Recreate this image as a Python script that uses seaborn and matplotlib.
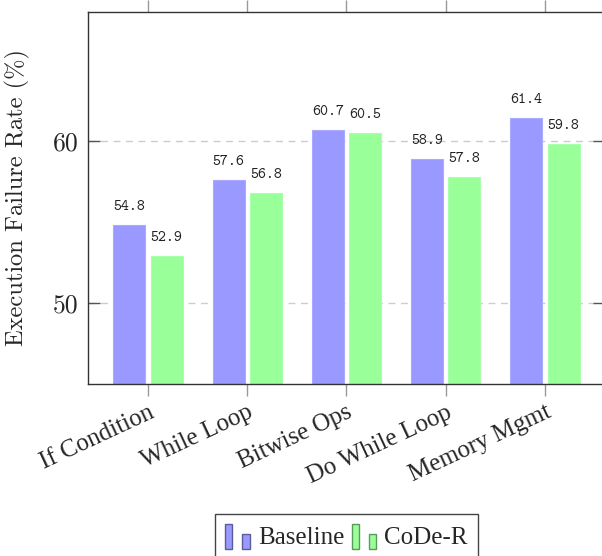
import matplotlib
matplotlib.use("Agg")
import matplotlib.pyplot as plt
from matplotlib.patches import Rectangle, Patch
from matplotlib.legend_handler import HandlerBase
import pandas as pd
import seaborn as sns

# Chart data
categories = ["If Condition", "While Loop", "Bitwise Ops", "Do While Loop", "Memory Mgmt"]
baseline = [54.8, 57.6, 60.7, 58.9, 61.4]
coder = [52.9, 56.8, 60.5, 57.8, 59.8]
series_names = ["Baseline", "CoDe-R"]
y_ticks = [50, 60]

colors = {"Baseline": "#9999ff", "CoDe-R": "#99ff99"}
edges = {"Baseline": "#aaaaff", "CoDe-R": "#aaffaa"}
legend_edges = {"Baseline": "#5c5c99", "CoDe-R": "#5c995c"}


class TwoBarHandler(HandlerBase):
    """pgfplots-style bar legend: a tall and a short bar."""

    def create_artists(self, legend, orig_handle, xdescent, ydescent,
                       width, height, fontsize, trans):
        fc = orig_handle.get_facecolor()
        ec = orig_handle.get_edgecolor()
        x0, y0 = -xdescent, -ydescent - 0.1 * height
        r1 = Rectangle((x0, y0), 0.28 * width, 1.1 * height,
                       facecolor=fc, edgecolor=ec, lw=1.0, transform=trans)
        r2 = Rectangle((x0 + 0.68 * width, y0), 0.3 * width, 0.65 * height,
                       facecolor=fc, edgecolor=ec, lw=1.0, transform=trans)
        return [r1, r2]


df = pd.DataFrame({
    "category": categories * 2,
    "series": [series_names[0]] * len(categories) + [series_names[1]] * len(categories),
    "value": baseline + coder,
})

sns.set_style("white")

W, H = 602, 556
fig = plt.figure(figsize=(W / 100, H / 100), dpi=100)
ax = fig.add_axes([88 / W, 1 - 384 / H, (604.5 - 88) / W, (384 - 12) / H])

sns.barplot(data=df, x="category", y="value", hue="series", order=categories,
            hue_order=series_names, palette=colors, saturation=1, width=0.75,
            gap=0.14, legend=False, ax=ax, zorder=2)

for cont, name in zip(ax.containers, series_names):
    for bar in cont:
        bar.set_edgecolor(edges[name])
        bar.set_linewidth(0.8)
    ax.bar_label(cont, fmt="%.1f", padding=8, fontsize=11, family="cmtt10",
                 color="#222222")

ax.set_ylim(45, 67.96)
ax.set_xlim(-0.605, 4.6)
ax.set_yticks(y_ticks)
ax.set_xlabel("")
ax.set_ylabel("Execution Failure Rate (%)", family="cmr10", fontsize=17.6,
              labelpad=16)

ax.yaxis.grid(True, linestyle=(0, (5, 4)), color="#cccccc", linewidth=1.0)
ax.set_axisbelow(True)

ax.tick_params(axis="x", direction="out", length=8.5, width=1.0,
               color="#999999", top=True, bottom=True, pad=4)
ax.tick_params(axis="y", direction="in", length=8.5, width=1.0,
               color="#555555", left=True, right=True, pad=7)

for lab in ax.get_yticklabels():
    lab.set_fontfamily("cmr10")
    lab.set_fontsize(18.5)

ax.set_xticks(range(len(categories)))
ax.set_xticklabels(categories, rotation=25, ha="right", rotation_mode="anchor",
                   family="Liberation Serif", fontsize=18)

for side in ["left", "bottom", "top", "right"]:
    ax.spines[side].set_color("#333333")
    ax.spines[side].set_linewidth(1.0)

handles = [Patch(facecolor=colors[n], edgecolor=legend_edges[n]) for n in series_names]
fig.legend(handles, series_names, handler_map={Patch: TwoBarHandler()},
           loc="upper center", bbox_to_anchor=(346.5 / W, 1 - 514 / H),
           ncol=2, frameon=True, fancybox=False, edgecolor="#444444",
           framealpha=1, prop={"family": "Liberation Serif", "size": 18},
           handlelength=1.0, handleheight=1.0, handletextpad=0.3,
           columnspacing=0.3, borderpad=0.4, borderaxespad=0)

fig.savefig("out.png", dpi=100)
